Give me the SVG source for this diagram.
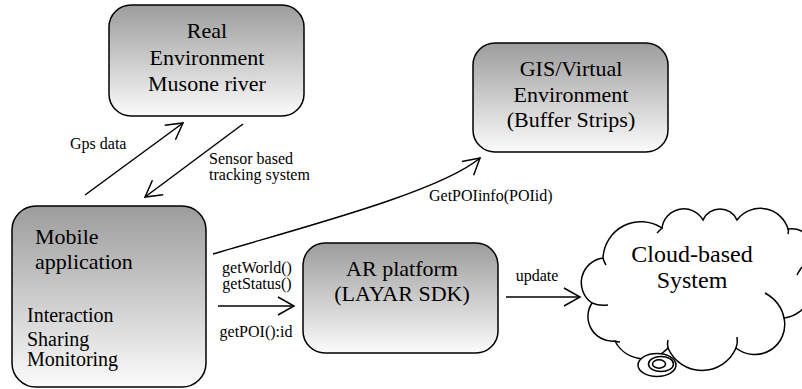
<svg xmlns="http://www.w3.org/2000/svg" width="802" height="389" viewBox="0 0 802 389">
<defs>
<linearGradient id="g" x1="0" y1="0" x2="0" y2="1">
<stop offset="0" stop-color="#9c9c9c"/>
<stop offset="1" stop-color="#fbfbfb"/>
</linearGradient>
<marker id="arr" viewBox="-18 -11 20 22" refX="0" refY="0" markerWidth="20" markerHeight="22" markerUnits="userSpaceOnUse" orient="auto">
<path d="M-16,-9 L0,0 L-16,9" fill="none" stroke="#000" stroke-width="1.5"/>
</marker>
</defs>
<style>
.box{fill:url(#g);stroke:#000;stroke-width:1.5}
.t{font-family:"Liberation Serif","Times New Roman",serif;fill:#000}
.big{font-size:22px;text-anchor:middle}
.lbl{font-size:16px}
.c{stroke:#000;stroke-width:1.5;fill:none}
</style>
<rect width="802" height="389" fill="#fff"/>
<g id="real">
<rect class="box" x="109" y="5" width="195" height="111" rx="22"/>
<text class="t big" x="207" y="38">Real</text>
<text class="t big" x="207" y="65">Environment</text>
<text class="t big" x="207" y="91">Musone river</text>
</g>
<g id="gis">
<rect class="box" x="473" y="43" width="195" height="109" rx="22"/>
<text class="t big" x="571" y="76">GIS/Virtual</text>
<text class="t big" x="571" y="102">Environment</text>
<text class="t big" x="571" y="127">(Buffer Strips)</text>
</g>
<g id="mobile">
<rect class="box" x="12" y="206" width="194" height="181" rx="24"/>
<text class="t" font-size="22" x="35" y="244">Mobile</text>
<text class="t" font-size="22" x="35" y="269">application</text>
<text class="t" font-size="20" x="27" y="322">Interaction</text>
<text class="t" font-size="20" x="27" y="346">Sharing</text>
<text class="t" font-size="20" x="27" y="366">Monitoring</text>
</g>
<g id="ar">
<rect class="box" x="303" y="243" width="195" height="110" rx="22"/>
<text class="t big" x="402" y="276">AR platform</text>
<text class="t big" x="402" y="301">(LAYAR SDK)</text>
</g>
<g id="cloud">
<path d="M603,258 A38,38 0 0 1 662,228 A22,22 0 0 1 703,220 A18.6,18.6 0 0 1 737,220 A29,29 0 0 1 788,229 A21,21 0 0 1 805,266 A32,32 0 0 1 784,318 A30,30 0 0 1 736,348 A37,37 0 0 1 668,348 A32.5,32.5 0 0 1 615,341 A24.6,24.6 0 0 1 592,303 A24.8,24.8 0 0 1 603,258 Z" fill="#fff" stroke="#000" stroke-width="1.5"/>
<path class="c" d="M603,258 Q604,262 606,265"/>
<path class="c" d="M592,303 Q599,306 608,305"/>
<path class="c" d="M615,341 Q617,342 620,342"/>
<path class="c" d="M668,348 Q667,344 668,340"/>
<path class="c" d="M736,348 Q738,343 737,337"/>
<path class="c" d="M765,293 Q781,302 784,318"/>
<path class="c" d="M797,275 Q799,271 802,267"/>
<path class="c" d="M788,229 Q789,231 788,234"/>
<path class="c" d="M662,228 Q659,231 657,233"/>
<ellipse cx="657" cy="365" rx="19" ry="11.5" fill="#fff" stroke="#000" stroke-width="1.5"/>
<ellipse cx="661" cy="364" rx="12.5" ry="7.5" fill="none" stroke="#000" stroke-width="1.5"/>
<ellipse cx="659" cy="364" rx="6.5" ry="4.2" fill="none" stroke="#000" stroke-width="1.5"/>
<text class="t" font-size="24" text-anchor="middle" x="692" y="262">Cloud-based</text>
<text class="t" font-size="24" text-anchor="middle" x="692" y="288">System</text>
</g>
<g id="connectors">
<path class="c" d="M85,195 L183,123" marker-end="url(#arr)"/>
<path class="c" d="M243,124 L145,197" marker-end="url(#arr)"/>
<path class="c" d="M213,254 C300,228 440,192 480,158" marker-end="url(#arr)"/>
<path class="c" d="M218,306 L294,306" marker-end="url(#arr)"/>
<path class="c" d="M506,297 L580,297" marker-end="url(#arr)"/>
<text class="t lbl" x="70" y="149">Gps data</text>
<text class="t lbl" x="209" y="164">Sensor based</text>
<text class="t lbl" x="209" y="180">tracking system</text>
<text class="t lbl" x="429" y="201">GetPOIinfo(POIid)</text>
<text class="t lbl" text-anchor="middle" x="257" y="273">getWorld()</text>
<text class="t lbl" text-anchor="middle" x="257" y="289">getStatus()</text>
<text class="t lbl" text-anchor="middle" x="256" y="337">getPOI():id</text>
<text class="t lbl" text-anchor="middle" x="537" y="281">update</text>
</g>
</svg>
